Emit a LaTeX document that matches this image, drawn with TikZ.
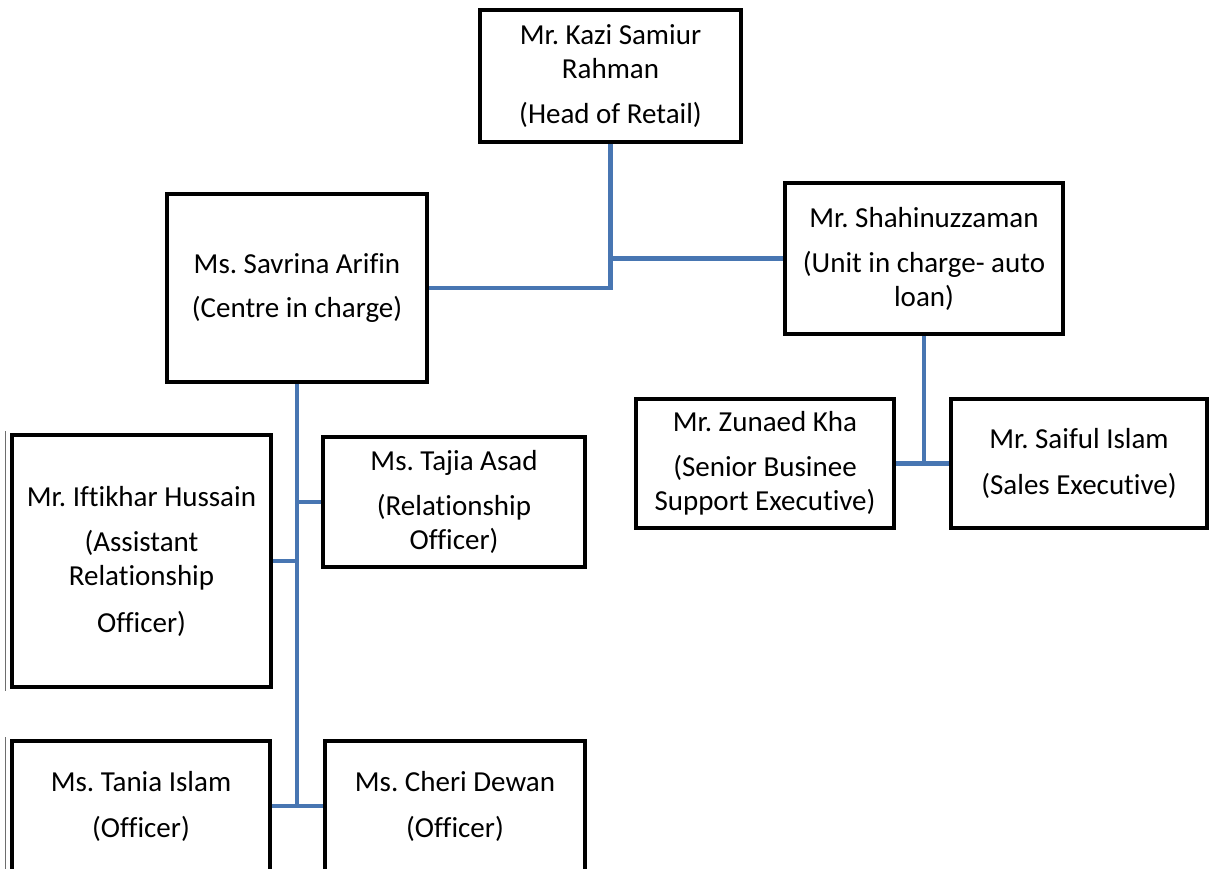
\documentclass[tikz,border=0pt]{standalone}
\usepackage{fontspec}
\setmainfont{Carlito}[Ligatures=NoCommon]
\usepackage{tikz}
\usetikzlibrary{calc}
\definecolor{linkblue}{RGB}{72,118,178}
\definecolor{edgegray}{RGB}{110,110,110}
\frenchspacing

\begin{document}
\begin{tikzpicture}[
  x=1pt, y=-1pt,
  person/.style={draw=black, line width=3.6pt, fill=white, align=center, inner sep=0pt,
    font=\fontsize{29pt}{34pt}\selectfont},
  link/.style={draw=linkblue, line width=4.2pt},
  shadow/.style={draw=edgegray, line width=0.9pt}
]
\useasboundingbox (0,0) rectangle (1209,869);
% top level
\node[person, minimum width=261pt, minimum height=132pt] (head) at (610.5,76) {Mr. Kazi Samiur\\Rahman\\[11pt](Head of Retail)};
% second level
\node[person, minimum width=260pt, minimum height=188pt] (savrina) at (297,288) {Ms. Savrina Arifin\\[10pt](Centre in charge)};
\node[person, minimum width=278pt, minimum height=151pt] (shahin) at (924,258.5) {Mr. Shahinuzzaman\\[11pt](Unit in charge- auto\\loan)};
% auto loan unit
\node[person, minimum width=258pt, minimum height=129pt] (zunaed) at (765,463.5) {Mr. Zunaed Kha\\[11pt](Senior Businee\\Support Executive)};
\node[person, minimum width=256pt, minimum height=129pt] (saiful) at (1079,463.5) {Mr. Saiful Islam\\[12pt](Sales Executive)};
% centre staff
\node[person, minimum width=262pt, minimum height=130pt] (tajia) at (454,502) {Ms. Tajia Asad\\[11pt](Relationship\\Officer)};
\node[person, minimum width=259pt, minimum height=252pt] (iftikhar) at (141.5,561) {Mr. Iftikhar Hussain\\[11pt](Assistant\\Relationship\\[13pt]Officer)};
\node[person, minimum width=258pt, minimum height=130pt] (tania) at (141,806) {Ms. Tania Islam\\[12pt](Officer)};
\node[person, minimum width=260pt, minimum height=130pt] (cheri) at (455,806) {Ms. Cheri Dewan\\[12pt](Officer)};
% thin left edges
\draw[shadow] ([xshift=-5pt,yshift=2pt]iftikhar.north west) -- ([xshift=-5pt,yshift=-2pt]iftikhar.south west);
\draw[shadow] ([xshift=-5pt,yshift=2pt]tania.north west) -- ([xshift=-5pt,yshift=-2pt]tania.south west);
% connectors
\draw[link] (head.south) |- (savrina.east);
\draw[link] (head.south |- shahin.west) -- (shahin.west);
\draw[link] (shahin.south) -- (shahin.south |- zunaed.east);
\draw[link] (zunaed.east) -- (saiful.west);
\draw[link] (savrina.south) -- (savrina.south |- tania.east);
\draw[link] (tajia.west) -- (tajia.west -| savrina.south);
\draw[link] (iftikhar.east) -- (iftikhar.east -| savrina.south);
\draw[link] (tania.east) -- (cheri.west);
\end{tikzpicture}
\end{document}
